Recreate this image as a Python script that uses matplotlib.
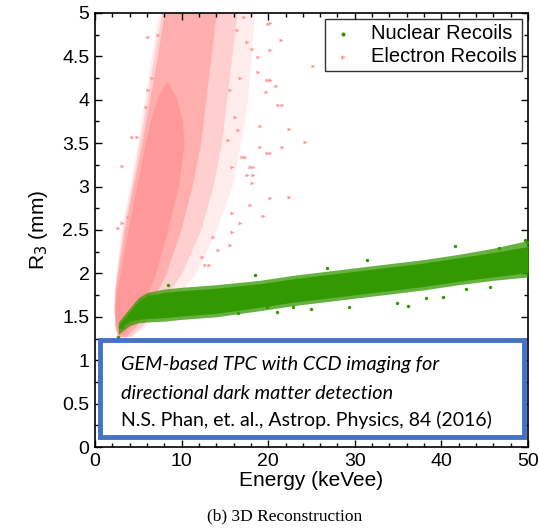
import matplotlib
matplotlib.use("Agg")
import matplotlib.pyplot as plt
from matplotlib.patches import Rectangle
import numpy as np

# ---------------- data ----------------
# Electron recoils: envelopes of the point cloud at given R3 (mm) levels (energy, keVee)
er_r3 = [1.27, 1.40, 1.60, 1.80, 2.00, 2.50, 3.00, 3.50, 4.00, 4.50, 5.00]
er_halo_left = [2.6, 2.3, 2.2, 2.2, 2.4, 3.0, 4.0, 4.9, 5.7, 6.5, 7.4]
er_halo_right = [4.2, 6.0, 8.0, 10.0, 11.6, 14.0, 15.8, 16.8, 17.6, 18.0, 18.4]
er_outer_left = [2.6, 2.3, 2.2, 2.3, 2.5, 3.2, 4.2, 5.1, 6.0, 6.8, 7.7]
er_outer_right = [4.0, 5.5, 7.0, 8.6, 10.0, 12.2, 13.6, 14.6, 15.2, 15.8, 16.4]
er_mid_left = [2.6, 2.3, 2.2, 2.3, 2.6, 3.4, 4.4, 5.4, 6.3, 7.2, 8.0]
er_mid_right = [3.6, 4.8, 6.0, 7.2, 8.2, 9.9, 11.2, 12.2, 12.8, 13.4, 14.0]
# solid core (only in the lower part of the cloud)
er_core_r3 = [1.30, 1.40, 1.60, 1.80, 2.00, 2.50, 3.00, 3.50, 3.80, 4.05, 4.20]
er_core_left = [2.7, 2.4, 2.3, 2.5, 2.9, 3.8, 4.8, 5.8, 6.5, 7.3, 8.2]
er_core_right = [3.3, 4.2, 5.2, 6.2, 7.0, 8.4, 9.6, 10.3, 10.0, 9.3, 8.4]

# Electron recoils: isolated points (energy, R3)
er_pts_e = [20.2, 21.5, 20.2, 25.2, 20.2, 20.9, 21.1, 21.6, 22.4, 21.6, 24.2, 20.2,
            22.4, 20.2, 6.1, 7.3, 20.0, 18.8, 18.8, 19.9, 20.2, 19.7, 18.1, 3.1,
            4.3, 4.8, 19.1, 19.9, 17.9, 18.3, 17.6, 18.3, 5.9, 6.1, 6.6, 17.3,
            2.7, 3.1, 3.8, 15.8, 19.4, 17.9, 18.1, 16.7, 15.6, 14.2, 12.4, 12.7,
            13.2, 13.6, 15.8, 17.2, 16.4, 19.0, 15.6, 16.7, 17.6, 16.2, 16.5, 15.4,
            17.0, 15.8]
er_pts_r = [4.88, 4.69, 4.57, 4.39, 4.23, 4.16, 3.94, 3.94, 3.66, 3.46, 3.51, 3.39,
            2.88, 2.87, 4.72, 4.75, 4.87, 4.49, 4.32, 4.23, 4.23, 4.09, 4.59, 3.24,
            3.57, 3.57, 3.46, 3.39, 3.23, 3.23, 3.13, 3.13, 3.92, 4.11, 4.25, 3.34,
            2.52, 2.58, 2.65, 2.70, 2.66, 2.79, 3.04, 2.58, 2.33, 2.27, 2.19, 2.10,
            2.10, 2.42, 2.48, 4.95, 4.80, 3.70, 4.11, 4.25, 4.67, 3.80, 3.65, 3.54,
            3.34, 3.23]

# Nuclear recoils: band envelopes vs energy
nr_energy = [2.7, 4.0, 5.0, 6.0, 8.0, 10.0, 14.0, 19.0, 23.0, 28.0, 33.0, 38.0, 42.0, 46.0, 50.0]
nr_core_low = [1.36, 1.45, 1.47, 1.48, 1.49, 1.51, 1.54, 1.61, 1.67, 1.73, 1.79, 1.85, 1.91, 1.96, 2.01]
nr_core_high = [1.40, 1.56, 1.68, 1.74, 1.78, 1.80, 1.83, 1.88, 1.94, 2.00, 2.06, 2.12, 2.18, 2.24, 2.31]
nr_halo_low = [1.30, 1.40, 1.43, 1.44, 1.45, 1.47, 1.50, 1.57, 1.63, 1.69, 1.75, 1.81, 1.87, 1.92, 1.96]
nr_halo_high = [1.44, 1.60, 1.72, 1.78, 1.82, 1.84, 1.87, 1.92, 1.98, 2.04, 2.10, 2.16, 2.22, 2.29, 2.38]

# Nuclear recoils: isolated points
nr_pts_e = [41.6, 36.1, 38.2, 40.2, 21.0, 24.9, 29.3, 31.4, 26.8, 34.9, 46.7, 49.9,
            42.8, 45.6, 22.9, 18.5, 2.7, 3.1, 4.0, 19.9, 16.5, 5.0, 6.1, 8.4, 49.7]
nr_pts_r = [2.32, 1.62, 1.72, 1.73, 1.56, 1.59, 1.61, 2.15, 2.06, 1.66, 2.29, 2.36,
            1.82, 1.84, 1.61, 1.98, 1.27, 1.38, 1.48, 1.61, 1.54, 1.60, 1.74, 1.87, 2.38]

x_ticks = [0, 10, 20, 30, 40, 50]
y_ticks = [0, 0.5, 1, 1.5, 2, 2.5, 3, 3.5, 4, 4.5, 5]
y_ticklabels = ["0", "0.5", "1", "1.5", "2", "2.5", "3", "3.5", "4", "4.5", "5"]

note_lines = ["GEM-based TPC with CCD imaging for",
              "directional dark matter detection",
              "N.S. Phan, et. al., Astrop. Physics, 84 (2016)"]

# ---------------- drawing ----------------
pink = "#FF9999"
green = "#339900"

plt.rcParams['font.family'] = ['Liberation Sans', 'DejaVu Sans']
fig = plt.figure(figsize=(5.39, 5.28), dpi=100)
ax = fig.add_axes([95 / 539, 1 - 447 / 528, 433 / 539, 434 / 528])

# electron recoil cloud
ax.fill_betweenx(er_r3, er_halo_left, er_halo_right, color=pink, alpha=0.18, lw=0, zorder=1)
ax.fill_betweenx(er_r3, er_outer_left, er_outer_right, color=pink, alpha=0.35, lw=0, zorder=1)
ax.fill_betweenx(er_r3, er_mid_left, er_mid_right, color=pink, alpha=0.6, lw=0, zorder=1)
ax.fill_betweenx(er_core_r3, er_core_left, er_core_right, color=pink, alpha=1.0, lw=0, zorder=1)
er_sc = ax.scatter(er_pts_e, er_pts_r, marker=">", s=8, color=pink, lw=0, zorder=2,
                   label="Electron Recoils")

# nuclear recoil band
ax.fill_between(nr_energy, nr_halo_low, nr_halo_high, color=green, alpha=0.75, lw=0, zorder=3)
ax.fill_between(nr_energy, nr_core_low, nr_core_high, color=green, alpha=1.0, lw=0, zorder=3)
nr_sc = ax.scatter(nr_pts_e, nr_pts_r, marker="o", s=6, color=green, lw=0, zorder=4,
                   label="Nuclear Recoils")

ax.set_xlim(0, 50)
ax.set_ylim(0, 5)
ax.set_xticks(x_ticks)
ax.set_yticks(y_ticks)
ax.set_yticklabels(y_ticklabels)
ax.set_xticks(np.arange(0, 51, 2), minor=True)
ax.set_yticks(np.arange(0, 5.01, 0.25), minor=True)
ax.tick_params(which="both", direction="in", top=True, right=True, labelsize=14, width=1)
ax.tick_params(which="major", length=5, pad=4)
ax.tick_params(which="minor", length=3)
for s in ax.spines.values():
    s.set_linewidth(1.2)

ax.set_xlabel("Energy (keVee)", fontsize=15, labelpad=1)
ax.set_ylabel("R$_3$ (mm)", fontsize=15, labelpad=9)

leg = ax.legend(handles=[nr_sc, er_sc], loc="upper right", fontsize=14.5, markerscale=1.2,
                frameon=True, fancybox=False, edgecolor="black", borderaxespad=0.3,
                handletextpad=0.75, borderpad=0.25, labelspacing=0.2, handlelength=1.3)
leg.get_frame().set_linewidth(1.0)

# citation box
ax.add_patch(Rectangle((0.6, 0.12), 48.9, 1.11, facecolor="white", edgecolor="#4472C4",
                       lw=3.5, zorder=6))
note_font = ["Lato", "DejaVu Sans"]
ax.text(3.0, 0.95, note_lines[0], fontsize=14.3, style="italic", family=note_font,
        va="center", ha="left", zorder=7)
ax.text(3.0, 0.62, note_lines[1], fontsize=14.3, style="italic", family=note_font,
        va="center", ha="left", zorder=7)
ax.text(3.0, 0.31, note_lines[2], fontsize=14.0, family=note_font,
        va="center", ha="left", zorder=7)

fig.text(285 / 539, 1 - 516 / 528, "(b) 3D Reconstruction", ha="center", va="center",
         fontsize=12.5, family=["Liberation Serif", "DejaVu Serif"])

fig.savefig("out.png", dpi=100)
